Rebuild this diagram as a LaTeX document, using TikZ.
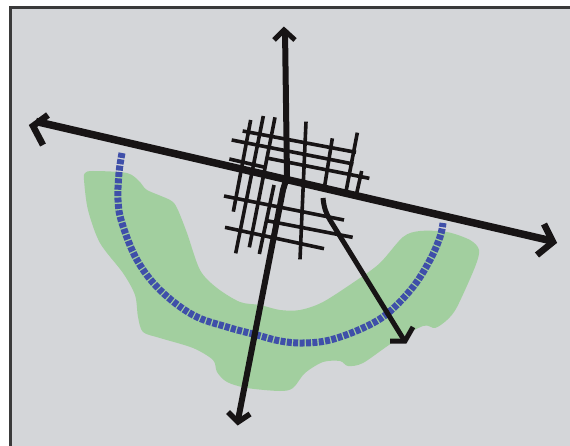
\documentclass[tikz,border=0pt]{standalone}
\definecolor{bg}{HTML}{D4D6D9}
\definecolor{park}{HTML}{A2CF9F}
\definecolor{trail}{HTML}{3F4FA9}
\definecolor{road}{HTML}{171415}
\definecolor{frameline}{HTML}{3A3A3A}
\tikzset{
  street/.style={draw=road,line width=3.6pt},
  mainroad/.style={draw=road,line width=#1,line join=round},
  head/.style={draw=road,line width=#1,line join=miter,miter limit=10,fill=none},
}
\begin{document}
\begin{tikzpicture}[x=1pt,y=-1pt]
\useasboundingbox (0,0) rectangle (570,446);
\fill[white] (0,0) rectangle (570,446);
\fill[bg] (10,8) rectangle (570,446);
\draw[frameline,line width=2.2pt] (10.5,446) -- (10.5,7.5) -- (570,7.5);
% green area
\fill[park] plot[smooth cycle,tension=0.5] coordinates {
(85,173) (93,171) (127,173) (140,182) (147,190) (170,200) (177,208) (187,233) (200,270) (217,288) (240,302) (260,305) (280,310) (300,310) (323,302) (357,280) (380,263) (403,237) (420,231) (447,232) (470,240) (479,250) (475,267) (457,307) (447,320) (435,328) (423,326) (392,343) (363,363) (348,366) (340,361) (323,362) (305,373) (293,388) (280,391) (247,388) (227,382) (217,372) (213,360) (193,348) (160,338) (143,332) (138,317) (135,295) (123,273) (100,243) (88,210) (84,180)};
% blue dashed trail
\draw[trail,line width=7pt,dash pattern=on 5pt off 1.4pt] plot[smooth,tension=0.6] coordinates {
(122,153) (119,173) (118,200) (122,223) (137,260) (160,290) (193,315) (227,327) (257,335) (280,341) (303,343) (330,340) (363,328) (388,313) (413,287) (430,260) (440,237) (443,223)};
% street grid
\foreach \ax/\ay/\bx/\by in {
152/90/100/365, 190/78/107/490, 225/82/148/472, 222/285/178/492,
318/95/300/508, 397/145/372/300, 472/128/437/310, 485/243/470/310,
128/123/468/187, 95/150/460/222, 88/207/195/232, 205/205/508/265,
72/318/432/390, 200/392/458/442, 75/412/372/476}
  \draw[street] ({200+\ax/3},{90+\ay/3}) -- ({200+\bx/3},{90+\by/3});
% main roads
\draw[mainroad=7.5pt] (36,121.5) -- (552,241);
\draw[mainroad=6pt] (285,30) -- (287,177) -- (283,190) -- (238,420);
\draw[mainroad=5pt] (323,198) .. controls (324,208) and (326,213) .. (330,220) -- (404,340);
% arrowheads
\draw[head=6.5pt] (48,115) -- (33,126) -- (43,145);
\draw[head=6.5pt] (544,224) -- (553,242) -- (537,255);
\draw[head=5pt] (274,40) -- (284,30) -- (295,40);
\draw[head=5.5pt] (228,412) -- (238,422) -- (250,414);
\draw[head=5pt] (413,327) -- (405,341) -- (390,341);
\end{tikzpicture}
\end{document}
